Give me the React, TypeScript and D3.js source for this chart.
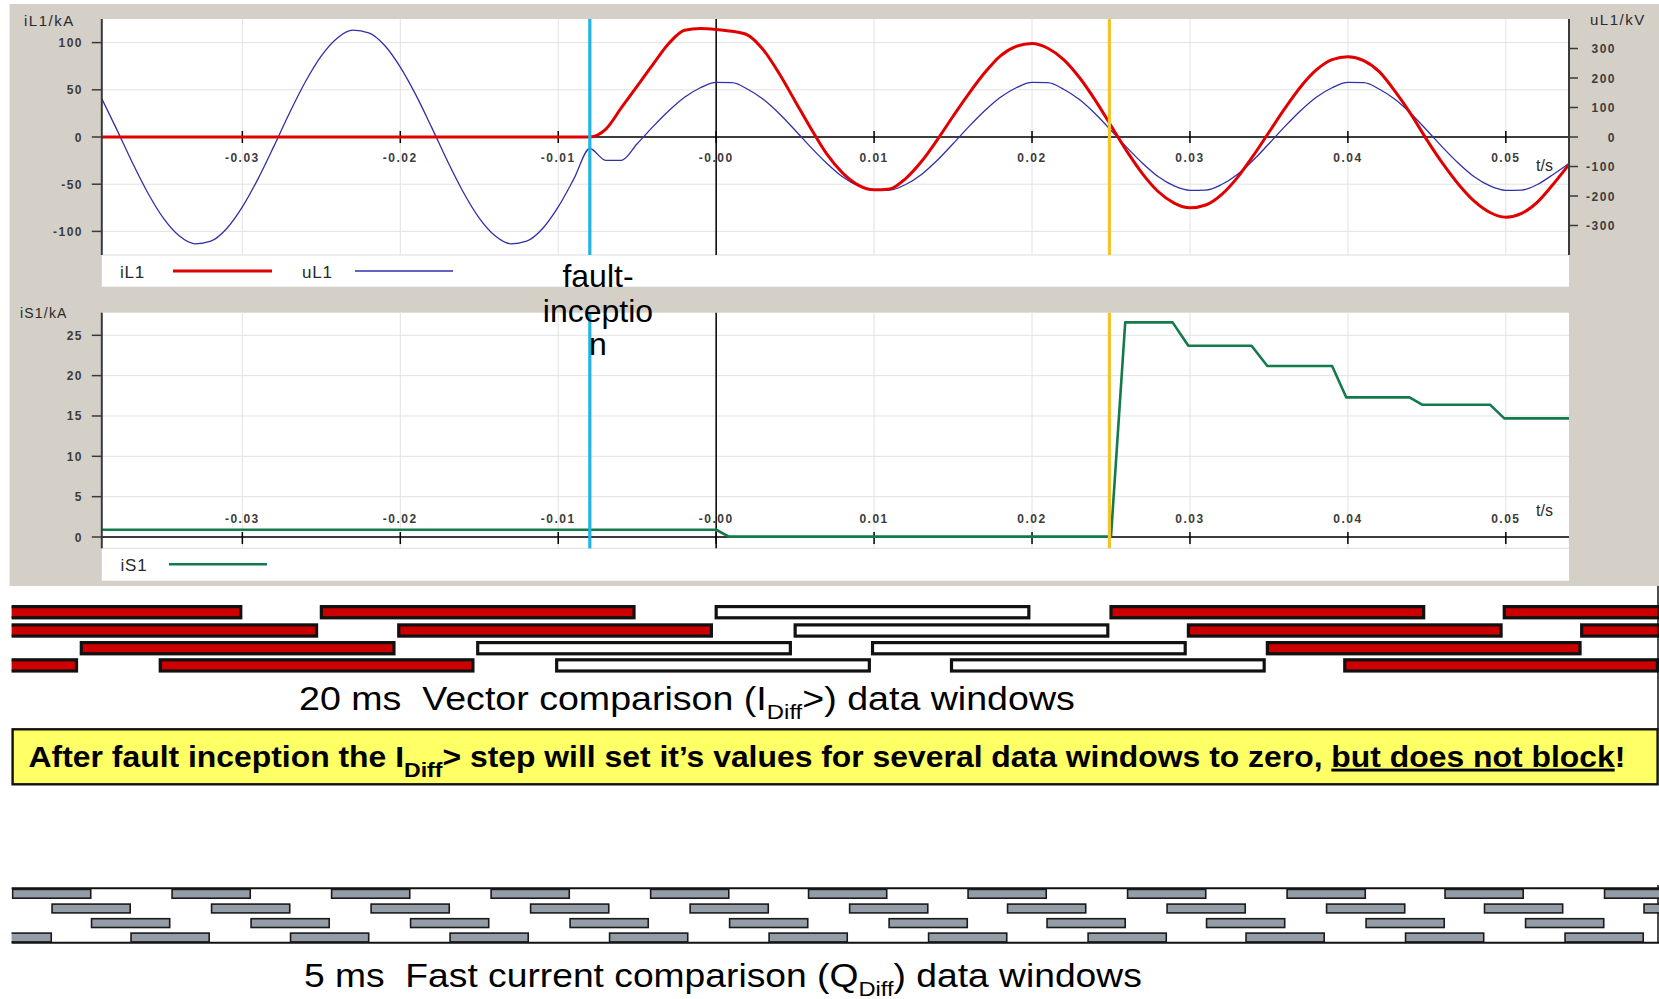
import React, { useLayoutEffect, useRef, useState } from 'react';
import * as d3 from 'd3';

const W = 1659;
const H = 999;

// ---- time axis (seconds) ----
const T_DOMAIN: [number, number] = [-0.0389, 0.054];
const T_TICKS = [-0.03, -0.02, -0.01, 0, 0.01, 0.02, 0.03, 0.04, 0.05];
const T_TICK_LABELS = ['-0.03', '-0.02', '-0.01', '-0.00', '0.01', '0.02', '0.03', '0.04', '0.05'];

// ---- sampled records, 1 ms apart starting at -39 ms ----
const SAMPLE_T0_MS = -39;
const SAMPLE_DT_MS = 1;

// phase voltage uL1 in kV
const UL1_KV = [
  141, 31, -83, -188, -275, -335, -362, -353, -311, -237,
  -141, -31, 83, 188, 275, 335, 362, 353, 311, 237,
  141, 31, -83, -188, -275, -335, -362, -353, -311, -237,
  -141, -39, -79, -79, -23, 35, 89, 135, 167, 185,
  184, 162, 127, 79, 23, -35, -89, -135, -166, -181,
  -180, -161, -127, -79, -23, 35, 89, 135, 167, 185,
  184, 162, 127, 79, 23, -35, -89, -135, -166, -181,
  -180, -161, -127, -79, -23, 35, 89, 135, 167, 185,
  184, 162, 127, 79, 23, -35, -89, -135, -166, -181,
  -180, -161, -127, -90,
];

// phase current iL1 in kA
const IL1_KA = [
  0, 0, 0, 0, 0, 0, 0, 0, 0, 0,
  0, 0, 0, 0, 0, 0, 0, 0, 0, 0,
  0, 0, 0, 0, 0, 0, 0, 0, 0, 0,
  0, 0, 8, 31, 54, 77, 99, 113, 115, 114,
  112, 108, 92, 67, 38, 9, -18, -38, -51, -56,
  -55, -44, -26, -3, 22, 46, 68, 86, 96, 99,
  94, 82, 63, 39, 12, -15, -39, -58, -70, -75,
  -72, -61, -43, -20, 5, 30, 53, 71, 82, 85,
  81, 69, 48, 24, -3, -28, -50, -68, -80, -85,
  -81, -69, -50, -29,
];

// differential / stabilising current iS1 in kA (break points)
const IS1_T = [
  -0.039, 0.0, 0.0008, 0.025, 0.0259, 0.0289, 0.0299, 0.0339, 0.0349,
  0.039, 0.0399, 0.0439, 0.0447, 0.049, 0.0499, 0.054,
];
const IS1_KA = [
  0.9, 0.9, 0.05, 0.05, 26.6, 26.6, 23.7, 23.7, 21.2,
  21.2, 17.3, 17.3, 16.4, 16.4, 14.7, 14.7,
];

const IL1_TICKS = [-100, -50, 0, 50, 100];
const UL1_TICKS = [-300, -200, -100, 0, 100, 200, 300];
const IS1_TICKS = [0, 5, 10, 15, 20, 25];

const FAULT_T = -0.008;
const TRIP_T = 0.0249;

// ---- 20 ms vector comparison windows (start in ms) ----
const WIN20_ROW = [
  0, 0, 0, 0, 0,
  1, 1, 1, 1, 1,
  2, 2, 2, 2,
  3, 3, 3, 3, 3,
];
const WIN20_START_MS = [
  -50, -25.1, -0.1, 24.9, 49.8,
  -45.2, -20.2, 4.9, 29.8, 54.7,
  -40.3, -15.2, 9.8, 34.8,
  -60.4, -35.3, -10.2, 14.8, 39.7,
];
const WIN20_ZEROED = [
  false, false, true, false, false,
  false, false, true, false, false,
  false, true, true, false,
  false, false, true, true, false,
];
const WIN20_LEN_MS = 20;

// ---- 5 ms fast comparison windows (start in ms) ----
const WIN5_ROW = [
  0, 0, 0, 0, 0, 0, 0, 0, 0, 0, 0,
  1, 1, 1, 1, 1, 1, 1, 1, 1, 1, 1,
  2, 2, 2, 2, 2, 2, 2, 2, 2, 2,
  3, 3, 3, 3, 3, 3, 3, 3, 3, 3, 3,
];
const WIN5_START_MS = [
  -44.6, -34.5, -24.4, -14.3, -4.2, 5.8, 15.9, 26.0, 36.1, 46.1, 56.2,
  -42.1, -32.0, -21.9, -11.8, -1.7, 8.4, 18.4, 28.5, 38.6, 48.6, 58.7,
  -39.6, -29.5, -19.4, -9.3, 0.8, 10.9, 20.9, 31.0, 41.1, 51.2,
  -47.1, -37.1, -27.0, -16.9, -6.8, 3.3, 13.4, 23.5, 33.5, 43.6, 53.7,
];
const WIN5_LEN_MS = 5.05;

// ---- layout ----
const PANEL = { x: 9.6, y: 4, w: W - 9.6, h: 582 };
const PL = 101.8;
const PR = 1569;
const UP = { top: 19, bottom: 255, legendBottom: 286.7 };
const LO = { top: 312.7, bottom: 548.3, legendBottom: 580.7 };

const GRID = '#e2e2e2';
const AXIS = '#3a3a3a';
const TXT = '#2a2a2a';
const TICK_FONT = '"Liberation Sans", Arial, sans-serif';
const UI_FONT = '"Liberation Sans", Arial, sans-serif';
const SLIDE_FONT = '"Liberation Sans Narrow", "Liberation Sans", Arial, sans-serif';

const xT = d3.scaleLinear().domain(T_DOMAIN).range([PL, PR]);
const xMs = (ms: number) => xT(ms / 1000);
const yI = d3.scaleLinear().domain([-125, 125]).range([UP.bottom, UP.top]);
const yU = d3.scaleLinear().domain([-400, 400]).range([UP.bottom, UP.top]);
const yS = d3.scaleLinear().domain([-1.4, 27.8]).range([LO.bottom, LO.top]);

const sampleT = UL1_KV.map((_, i) => (SAMPLE_T0_MS + i * SAMPLE_DT_MS) / 1000);

const uLine = d3.line<number>().x((_, i) => xT(sampleT[i])).y((v) => yU(v)).curve(d3.curveMonotoneX);
const iLine = d3.line<number>().x((_, i) => xT(sampleT[i])).y((v) => yI(v)).curve(d3.curveMonotoneX);
const sLine = d3.line<number>().x((_, i) => xT(IS1_T[i])).y((v) => yS(v));

// Text that is horizontally scaled to occupy a given width.
function FitText({ x, y, width, children, ...rest }: any) {
  const ref = useRef<SVGTextElement>(null);
  const [k, setK] = useState(1);
  useLayoutEffect(() => {
    if (ref.current) {
      const w = ref.current.getBBox().width;
      if (w > 0) setK(width / w);
    }
  }, [width]);
  return (
    <g transform={`translate(${x},${y}) scale(${k},1)`}>
      <text ref={ref} x={0} y={0} xmlSpace="preserve" style={{ whiteSpace: 'pre' }} {...rest}>
        {children}
      </text>
    </g>
  );
}

function Grid({ top, bottom, yTicks, yScale }: any) {
  return (
    <g>
      {T_TICKS.map((t) => (
        <line key={'v' + t} x1={xT(t)} x2={xT(t)} y1={top} y2={bottom} stroke={GRID} strokeWidth={1} />
      ))}
      {yTicks.map((v: number) => (
        <line key={'h' + v} x1={PL} x2={PR} y1={yScale(v)} y2={yScale(v)} stroke={GRID} strokeWidth={1} />
      ))}
    </g>
  );
}

const tickText = {
  fontFamily: TICK_FONT,
  fontSize: 12,
  fontWeight: 'bold' as const,
  letterSpacing: 1.5,
  fill: '#3c3c3c',
};

export default function App() {
  const y0u = yI(0);
  const y0l = yS(0);
  return (
    <svg
      width={W}
      height={H}
      viewBox={`0 0 ${W} ${H}`}
      style={{ position: 'absolute', left: 0, top: 0, display: 'block', background: '#fff' }}
    >
      <defs>
        <clipPath id="clip-up">
          <rect x={PL} y={UP.top} width={PR - PL} height={UP.bottom - UP.top} />
        </clipPath>
        <clipPath id="clip-lo">
          <rect x={PL} y={LO.top} width={PR - PL} height={LO.bottom - LO.top} />
        </clipPath>
        <clipPath id="clip-win">
          <rect x={11.6} y={590} width={W - 11.6} height={400} />
        </clipPath>
      </defs>

      {/* instrument panel */}
      <rect x={PANEL.x} y={PANEL.y} width={PANEL.w} height={PANEL.h} fill="#d4d0c8" />

      {/* ================= upper chart: iL1 / uL1 ================= */}
      <rect x={PL} y={UP.top} width={PR - PL} height={UP.legendBottom - UP.top} fill="#fff" />
      <line x1={PL} x2={PR} y1={UP.bottom} y2={UP.bottom} stroke="#dcdcdc" />
      <Grid top={UP.top} bottom={UP.bottom} yTicks={IL1_TICKS} yScale={yI} />
      <line x1={PL} x2={PR} y1={y0u} y2={y0u} stroke="#000" strokeWidth={1.5} />
      <line x1={xT(0)} x2={xT(0)} y1={UP.top} y2={UP.bottom} stroke="#000" strokeWidth={1.5} />
      {T_TICKS.map((t, i) => (
        <g key={'ut' + t}>
          <line x1={xT(t)} x2={xT(t)} y1={y0u - 6} y2={y0u + 6} stroke="#000" strokeWidth={1.5} />
          <text x={xT(t)} y={y0u + 24.5} textAnchor="middle" {...tickText}>
            {T_TICK_LABELS[i]}
          </text>
        </g>
      ))}
      <text x={1536} y={171} fontFamily={UI_FONT} fontSize={16} fill={TXT}>t/s</text>

      <g clipPath="url(#clip-up)">
        <path d={uLine(UL1_KV) || ''} fill="none" stroke="#3030a8" strokeWidth={1.3} strokeLinejoin="round" />
        <path d={iLine(IL1_KA) || ''} fill="none" stroke="#e10000" strokeWidth={3} strokeLinejoin="round" />
      </g>

      {/* left axis (kA) */}
      <line x1={PL} x2={PL} y1={UP.top} y2={UP.bottom} stroke={AXIS} strokeWidth={2} />
      {IL1_TICKS.map((v) => (
        <g key={'il' + v}>
          <line x1={PL - 10} x2={PL} y1={yI(v)} y2={yI(v)} stroke={AXIS} strokeWidth={1.5} />
          <text x={83} y={yI(v) + 4.5} textAnchor="end" {...tickText}>
            {v}
          </text>
        </g>
      ))}
      <text x={24} y={25.5} fontFamily={UI_FONT} fontSize={15} letterSpacing={1.5} fill={TXT}>iL1/kA</text>

      {/* right axis (kV) */}
      <line x1={PR} x2={PR} y1={UP.top} y2={UP.bottom} stroke={AXIS} strokeWidth={2} />
      {UL1_TICKS.map((v) => (
        <g key={'ul' + v}>
          <line x1={PR} x2={PR + 9} y1={yU(v)} y2={yU(v)} stroke={AXIS} strokeWidth={1.5} />
          <text x={1616} y={yU(v) + 4.5} textAnchor="end" {...tickText}>
            {v}
          </text>
        </g>
      ))}
      <text x={1590} y={25} fontFamily={UI_FONT} fontSize={15} letterSpacing={1.5} fill={TXT}>uL1/kV</text>

      {/* upper legend */}
      <text x={120} y={278} fontFamily={UI_FONT} fontSize={17} letterSpacing={0.8} fill={TXT}>iL1</text>
      <line x1={173} x2={272} y1={271} y2={271} stroke="#e10000" strokeWidth={3} />
      <text x={302} y={278} fontFamily={UI_FONT} fontSize={17} letterSpacing={0.8} fill={TXT}>uL1</text>
      <line x1={355} x2={453} y1={271} y2={271} stroke="#3030a8" strokeWidth={1.3} />

      {/* ================= lower chart: iS1 ================= */}
      <rect x={PL} y={LO.top} width={PR - PL} height={LO.legendBottom - LO.top} fill="#fff" />
      <line x1={PL} x2={PR} y1={LO.bottom} y2={LO.bottom} stroke="#dcdcdc" />
      <Grid top={LO.top} bottom={LO.bottom} yTicks={IS1_TICKS} yScale={yS} />
      <line x1={PL} x2={PR} y1={y0l} y2={y0l} stroke="#000" strokeWidth={1.5} />
      <line x1={xT(0)} x2={xT(0)} y1={LO.top} y2={LO.bottom} stroke="#000" strokeWidth={1.5} />
      {T_TICKS.map((t, i) => (
        <g key={'lt' + t}>
          <line x1={xT(t)} x2={xT(t)} y1={y0l - 5} y2={y0l + 7} stroke="#000" strokeWidth={1.5} />
          <text x={xT(t)} y={y0l - 14} textAnchor="middle" {...tickText}>
            {T_TICK_LABELS[i]}
          </text>
        </g>
      ))}
      <text x={1536} y={516} fontFamily={UI_FONT} fontSize={16} fill={TXT}>t/s</text>

      <g clipPath="url(#clip-lo)">
        <path d={sLine(IS1_KA) || ''} fill="none" stroke="#137a4a" strokeWidth={2.6} strokeLinejoin="round" />
      </g>

      <line x1={PL} x2={PL} y1={LO.top} y2={LO.bottom} stroke={AXIS} strokeWidth={2} />
      {IS1_TICKS.map((v) => (
        <g key={'is' + v}>
          <line x1={PL - 10} x2={PL} y1={yS(v)} y2={yS(v)} stroke={AXIS} strokeWidth={1.5} />
          <text x={83} y={yS(v) + 4.5} textAnchor="end" {...tickText}>
            {v}
          </text>
        </g>
      ))}
      <text x={20} y={318} fontFamily={UI_FONT} fontSize={14} letterSpacing={1.2} fill={TXT}>iS1/kA</text>

      <text x={120.5} y={571} fontFamily={UI_FONT} fontSize={17} letterSpacing={0.8} fill={TXT}>iS1</text>
      <line x1={169} x2={267} y1={564.3} y2={564.3} stroke="#137a4a" strokeWidth={2.6} />

      {/* event markers: fault inception and trip */}
      {[
        [UP.top, UP.bottom],
        [LO.top, LO.bottom],
      ].map(([a, b], i) => (
        <g key={'ev' + i}>
          <line x1={xT(FAULT_T)} x2={xT(FAULT_T)} y1={a} y2={b} stroke="#22b4e6" strokeWidth={3.2} />
          <line x1={xT(TRIP_T)} x2={xT(TRIP_T)} y1={a} y2={b} stroke="#f2c52a" strokeWidth={3.2} />
        </g>
      ))}

      <g fontFamily='"Liberation Sans", Arial, sans-serif' fontSize={32} fill="#000" textAnchor="middle">
        <text x={598} y={286.5}>fault-</text>
        <text x={598} y={321.5}>inceptio</text>
        <text x={598} y={355}>n</text>
      </g>

      {/* ================= 20 ms data windows ================= */}
      <g clipPath="url(#clip-win)">
        {WIN20_START_MS.map((s, i) => {
          const tops = [605, 623.3, 641, 658.2];
          const y = tops[WIN20_ROW[i]];
          return (
            <rect
              key={'w20' + i}
              x={xMs(s) + 1.6}
              y={y + 1.6}
              width={xMs(s + WIN20_LEN_MS) - xMs(s) - 3.2}
              height={14.4 - 3.2}
              fill={WIN20_ZEROED[i] ? '#ffffff' : '#cc0000'}
              stroke="#111"
              strokeWidth={3.2}
            />
          );
        })}
      </g>

      <FitText x={299} y={710} width={776} fontFamily={SLIDE_FONT} fontSize={33} fill="#000">
        <tspan>{'20 ms\u00A0\u00A0Vector comparison (I'}</tspan>
        <tspan fontSize={21} dy={9}>Diff</tspan>
        <tspan dy={-9}>&gt;) data windows</tspan>
      </FitText>

      {/* statement banner */}
      <line x1={1658} x2={1658} y1={586} y2={729} stroke="#111" strokeWidth={1.5} />
      <rect x={12.6} y={729.3} width={W - 14} height={55} fill="#ffff66" stroke="#111" strokeWidth={2.4} />
      <FitText x={28.6} y={766.7} width={1597} fontFamily={SLIDE_FONT} fontSize={29} fontWeight="bold" fill="#000">
        <tspan>After fault inception the I</tspan>
        <tspan fontSize={21} dy={10}>Diff</tspan>
        <tspan dy={-10}>{'> step will set it\u2019s values for several data windows to zero, '}</tspan>
        <tspan textDecoration="underline" style={{ textDecoration: 'underline' }}>but does not block</tspan>
        <tspan>!</tspan>
      </FitText>

      {/* ================= 5 ms data windows ================= */}
      <line x1={11.6} x2={W} y1={888.3} y2={888.3} stroke="#111" strokeWidth={2} />
      <line x1={11.6} x2={W} y1={942.7} y2={942.7} stroke="#111" strokeWidth={2} />
      <line x1={1658} x2={1658} y1={885} y2={943} stroke="#111" strokeWidth={1.5} />
      <g clipPath="url(#clip-win)">
        {WIN5_START_MS.map((s, i) => {
          const tops = [888.6, 903.3, 917.9, 932.3];
          const y = tops[WIN5_ROW[i]];
          return (
            <rect
              key={'w5' + i}
              x={xMs(s) + 0.8}
              y={y + 0.8}
              width={xMs(s + WIN5_LEN_MS) - xMs(s) - 1.6}
              height={10.4 - 1.6}
              fill="#939ca7"
              stroke="#1a1a1a"
              strokeWidth={1.6}
            />
          );
        })}
      </g>

      <FitText x={304} y={986.7} width={838} fontFamily={SLIDE_FONT} fontSize={33} fill="#000">
        <tspan>{'5 ms\u00A0\u00A0Fast current comparison (Q'}</tspan>
        <tspan fontSize={21} dy={9}>Diff</tspan>
        <tspan dy={-9}>) data windows</tspan>
      </FitText>
    </svg>
  );
}
